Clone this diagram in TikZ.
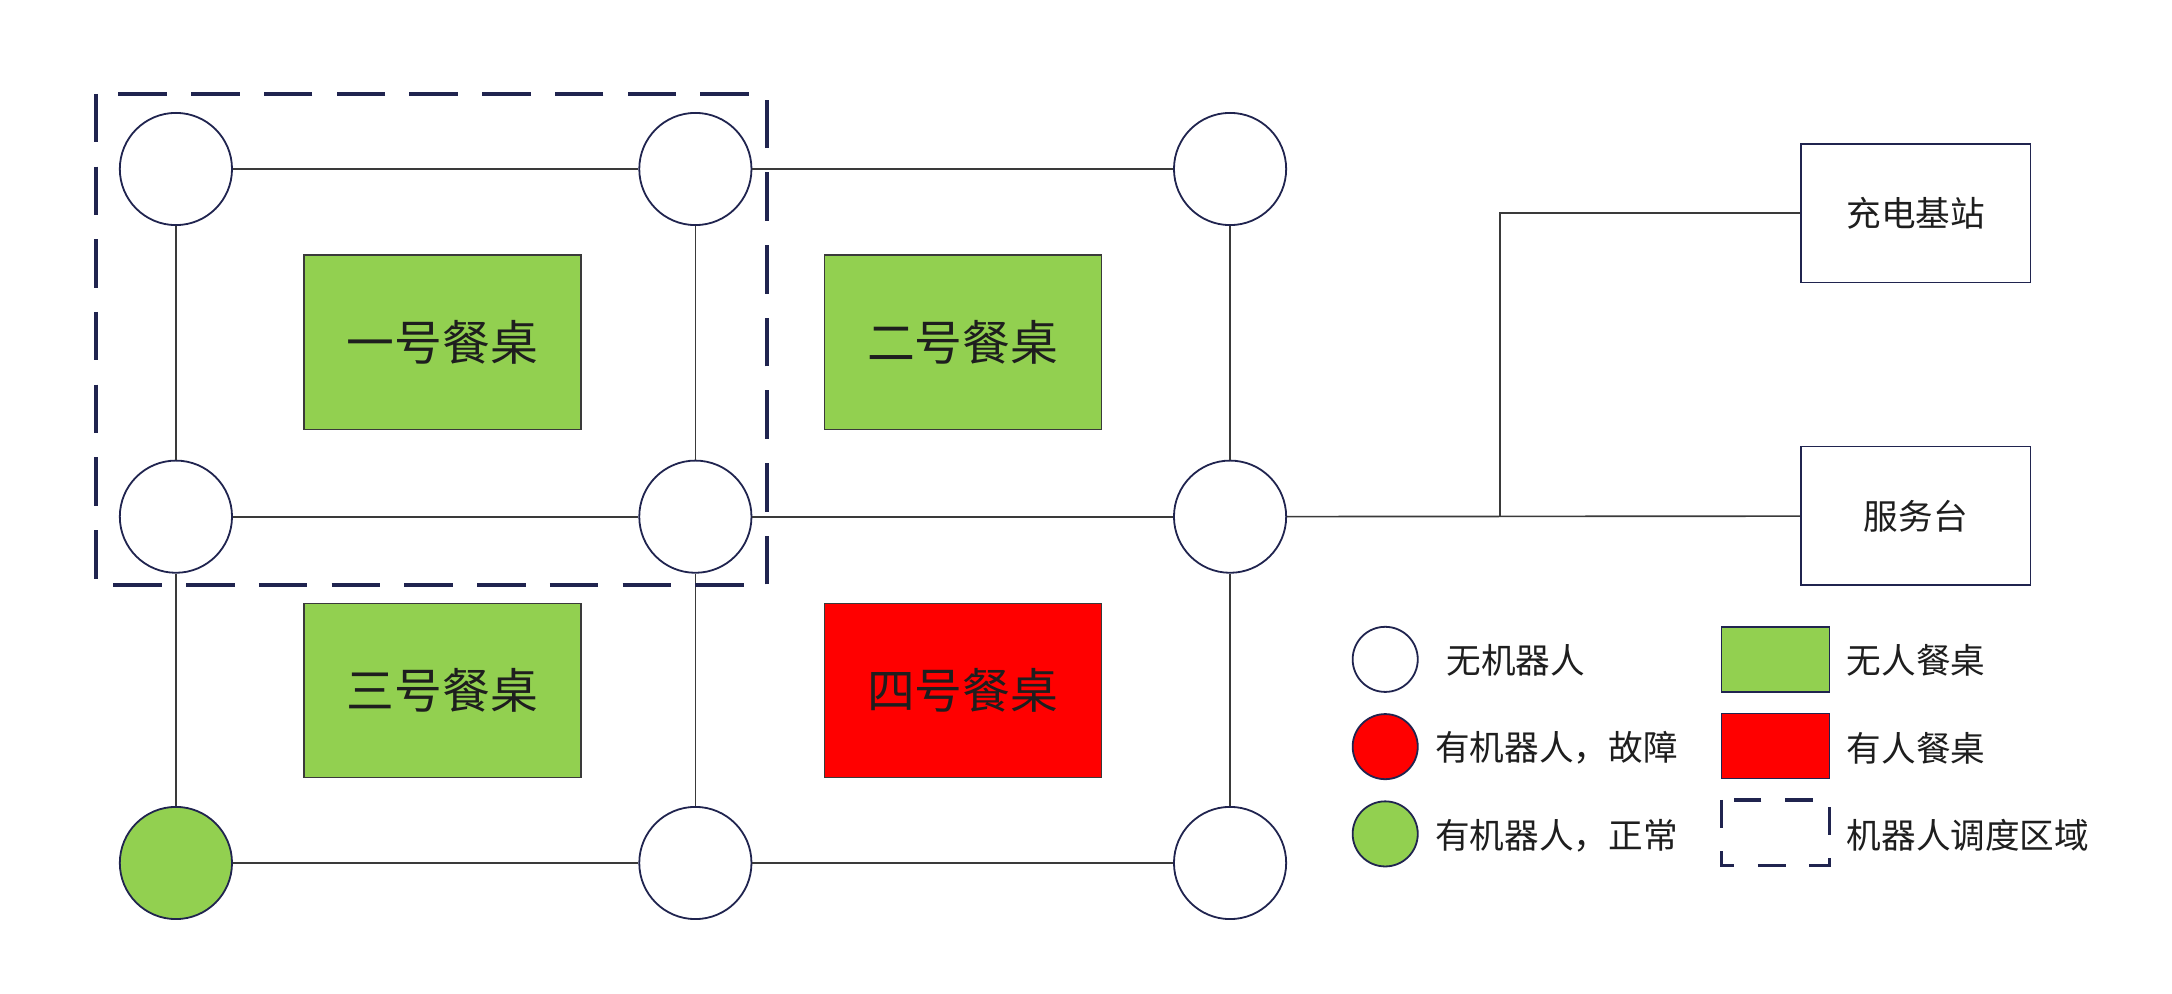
\documentclass[tikz,border=0pt]{standalone}
\usepackage{fontspec}
\newfontfamily\cjk{Noto Sans CJK SC}
\definecolor{navy}{HTML}{20244F}
\definecolor{linegray}{HTML}{3A3A3A}
\definecolor{tgreen}{HTML}{92D050}
\definecolor{tred}{HTML}{FF0000}
\definecolor{txt}{HTML}{1E1E1E}
\begin{document}
\begin{tikzpicture}[x=1pt,y=-1pt,
  robot/.style={circle,draw=navy,line width=1.3pt,minimum size=81pt,inner sep=0pt,fill=white},
  lrobot/.style={circle,draw=navy,line width=1.3pt,minimum size=47pt,inner sep=0pt,fill=white},
  tbl/.style={draw=linegray,line width=1pt,minimum width=200pt,minimum height=126pt,inner sep=0pt,
    font=\cjk\fontsize{34.5}{34.5}\selectfont,text=txt},
  sidebox/.style={draw=navy,line width=1.1pt,fill=white,minimum width=166pt,minimum height=100pt,inner sep=0pt,
    font=\cjk\fontsize{25}{25}\selectfont,text=txt},
  link/.style={draw=linegray,line width=1.2pt},
  zone/.style={draw=navy,line width=2.8pt,dash pattern=on 35pt off 17.5pt},
  lzone/.style={draw=navy,line width=2.4pt,dash pattern=on 20pt off 17pt},
  ltext/.style={anchor=west,inner sep=0pt,font=\cjk\fontsize{25}{25}\selectfont,text=txt},
  lbox/.style={draw=navy,line width=1pt,minimum width=78pt,minimum height=47pt,inner sep=0pt}]
\useasboundingbox (0,0) rectangle (1568,717.58);
\fill[white] (0,0) rectangle (1568,717.58);

% tables
\node[tbl,fill=tgreen] (t1) at (319.5,247) {一号餐桌};
\node[tbl,fill=tgreen] (t2) at (695,247) {二号餐桌};
\node[tbl,fill=tgreen] (t3) at (319.5,498.5) {三号餐桌};
\node[tbl,fill=tred] (t4) at (695,498.5) {四号餐桌};

% side boxes
\node[sidebox] (charge) at (1383,154) {充电基站};
\node[sidebox] (serv) at (1383,372.5) {服务台};

% robot positions
\node[robot] (a1) at (127,122) {};
\node[robot] (a2) at (502,122) {};
\node[robot] (a3) at (888,122) {};
\node[robot] (b1) at (127,373) {};
\node[robot] (b2) at (502,373) {};
\node[robot] (b3) at (888,373) {};
\node[robot,fill=tgreen] (c1) at (127,623) {};
\node[robot] (c2) at (502,623) {};
\node[robot] (c3) at (888,623) {};

% links
\draw[link] (a1) -- (a2);
\draw[link] (a2) -- (a3);
\draw[link] (b1) -- (b2);
\draw[link] (b2) -- (b3);
\draw[link] (c1) -- (c2);
\draw[link] (c2) -- (c3);
\draw[link] (a1) -- (b1);
\draw[link] (b1) -- (c1);
\draw[link] (a2) -- (b2);
\draw[link] (b2) -- (c2);
\draw[link] (a3) -- (b3);
\draw[link] (b3) -- (c3);
\draw[link] (b3) -- (serv);
\coordinate (j) at (1083,373);
\draw[link] (j) |- (charge.west);

% dispatch zone
\draw[zone] (69.2,67.7) rectangle (553.8,422.5);

% legend
\node[lrobot] (l1) at (1000,476) {};
\node[lrobot,fill=tred] (l2) at (1000,539) {};
\node[lrobot,fill=tgreen] (l3) at (1000,602) {};
\node[ltext] (lt1) at (1044,477) {无机器人};
\node[ltext] (lt2) at (1036,540) {有机器人，故障};
\node[ltext] (lt3) at (1036,603) {有机器人，正常};
\node[lbox,fill=tgreen] (lb1) at (1281.6,476) {};
\node[lbox,fill=tred] (lb2) at (1281.6,538.5) {};
\draw[lzone] (1242.6,577.5) rectangle (1320.6,625);
\node[ltext] (lt4) at (1333,477) {无人餐桌};
\node[ltext] (lt5) at (1333,540) {有人餐桌};
\node[ltext] (lt6) at (1333,603) {机器人调度区域};
\end{tikzpicture}
\end{document}
